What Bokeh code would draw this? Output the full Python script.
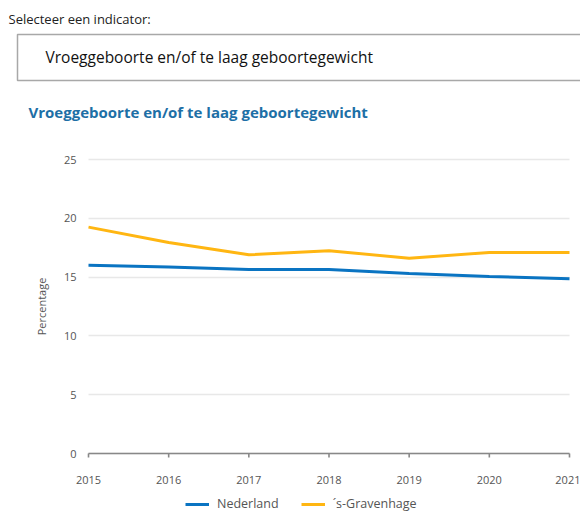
from bokeh.plotting import figure
from bokeh.models import ColumnDataSource, Legend, LegendItem, FixedTicker, Range1d, Title, Grid
from bokeh.embed import file_html
from bokeh.resources import INLINE

# ---- data ----
years = [2015, 2016, 2017, 2018, 2019, 2020, 2021]
nederland = [16.0, 15.85, 15.65, 15.65, 15.3, 15.05, 14.85]
gravenhage = [19.25, 17.95, 16.9, 17.25, 16.6, 17.1, 17.1]
y_ticks = [0, 5, 10, 15, 20, 25]
series_names = ["Nederland", "\u00b4s-Gravenhage"]
series_colors = ["#0a74c2", "#ffb612"]

select_label = "Selecteer een indicator:"
indicator = "Vroeggeboorte en/of te laag geboortegewicht"
FONT = "Open Sans"

# layout (pixels): plot area x 88..569, y 159 (=25) .. 453 (=0); frame spans 0..580 x FRAME_TOP..512
FRAME_TOP = 140
px_x = 481 / (years[-1] - years[0])
px_y = 294 / 25
x_rng = Range1d(years[0] - 88 / px_x, years[-1] + 11 / px_x)
y_rng = Range1d(-(512 - 453) / px_y, 25 + (159 - FRAME_TOP) / px_y)

p = figure(width=580, height=512, x_range=x_rng, y_range=y_rng,
           output_backend="svg", toolbar_location=None, title=None,
           min_border_left=0, min_border_right=0, min_border_top=FRAME_TOP, min_border_bottom=0)
p.outline_line_color = None
p.xgrid.visible = False

if "cross_bounds" in Grid.properties():
    p.ygrid.cross_bounds = (years[0], years[-1])
    p.ygrid.grid_line_color = "#e8e8e8"
    p.ygrid.grid_line_width = 1.5
else:
    p.ygrid.visible = False
    p.segment(x0=[years[0]] * len(y_ticks), x1=[years[-1]] * len(y_ticks), y0=y_ticks, y1=y_ticks,
              line_color="#e8e8e8", line_width=1.5)

p.yaxis.ticker = FixedTicker(ticks=y_ticks)
p.xaxis.ticker = FixedTicker(ticks=years)
p.xaxis.fixed_location = 0
p.yaxis.fixed_location = years[0]
p.xaxis.bounds = (years[0], years[-1])
p.yaxis.bounds = (0, 25)

for ax in (p.xaxis[0], p.yaxis[0]):
    if "background_fill_color" in ax.properties():
        ax.background_fill_color = None

p.yaxis.axis_line_color = None
p.yaxis.major_tick_line_color = None
p.yaxis.minor_tick_line_color = None
p.yaxis.major_tick_out = 0
p.yaxis.major_tick_in = 0
p.yaxis.major_label_standoff = 12
p.yaxis.axis_label = "Percentage"
p.yaxis.axis_label_text_font = FONT
p.yaxis.axis_label_text_font_size = "11px"
p.yaxis.axis_label_text_font_style = "normal"
p.yaxis.axis_label_text_color = "#555555"
p.yaxis.axis_label_standoff = 12

p.xaxis.axis_line_color = None
p.xaxis.major_tick_line_color = None
p.xaxis.major_tick_out = 4
p.xaxis.major_tick_in = 0
p.xaxis.minor_tick_line_color = None
p.xaxis.major_label_standoff = 18

for ax in (p.xaxis, p.yaxis):
    ax.major_label_text_font = FONT
    ax.major_label_text_font_size = "11px"
    ax.major_label_text_color = "#555555"

# x-axis rule and ticks drawn through the data scales, on top of everything
AXIS_COLOR = "#888888"
p.segment(x0=[years[0]], y0=[0], x1=[years[-1]], y1=[0], line_color=AXIS_COLOR,
          line_width=1.6, level="overlay")
p.segment(x0=years, y0=[0] * len(years), x1=years, y1=[-4 / px_y] * len(years),
          line_color=AXIS_COLOR, line_width=1.6, level="overlay")

# ---- header as stacked titles (first added = closest to the frame) ----
p.add_layout(Title(text=indicator, align="left", offset=28, standoff=38,
                   text_font=FONT, text_font_size="15px", text_font_style="bold",
                   text_color="#1d6fa6"), "above")
p.add_layout(Title(text=indicator, align="left", offset=17, standoff=0,
                   text_font=FONT, text_font_size="15.5px", text_font_style="normal",
                   text_color="#111111", background_fill_color="white",
                   border_line_color="#a8a8a8", border_line_width=1.5,
                   padding=dict(left=28, right=210, top=11, bottom=13)), "above")
p.add_layout(Title(text=select_label, align="left", offset=8, standoff=10,
                   text_font=FONT, text_font_size="13px", text_font_style="normal",
                   text_color="#222222"), "above")

# ---- series ----
src = ColumnDataSource(dict(year=years, ned=nederland, gra=gravenhage))
r1 = p.line("year", "ned", source=src, line_color=series_colors[0], line_width=3)
r2 = p.line("year", "gra", source=src, line_color=series_colors[1], line_width=3)

legend = Legend(items=[LegendItem(label=series_names[0], renderers=[r1]),
                       LegendItem(label=series_names[1], renderers=[r2])],
                orientation="horizontal", location=(185, 0),
                label_text_font=FONT, label_text_font_size="12.5px",
                label_text_color="#555555", glyph_width=24, glyph_height=12,
                label_standoff=8, spacing=22, margin=0, padding=1,
                border_line_color=None, background_fill_alpha=0)
p.add_layout(legend, "center")

open("out.html", "w").write(file_html(p, INLINE))
